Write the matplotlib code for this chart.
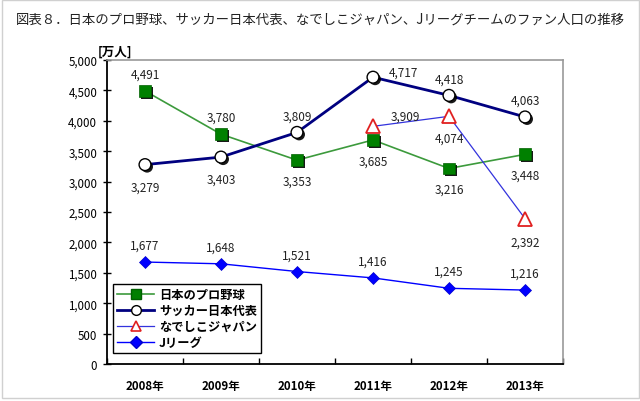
import matplotlib
matplotlib.use("Agg")
import matplotlib.pyplot as plt
import matplotlib.patheffects as pe
from matplotlib.lines import Line2D
import numpy as np

plt.rcParams['font.family'] = ['Noto Sans CJK JP', 'DejaVu Sans']

years = ['2008年', '2009年', '2010年', '2011年', '2012年', '2013年']
baseball = [4491, 3780, 3353, 3685, 3216, 3448]
soccer = [3279, 3403, 3809, 4717, 4418, 4063]
nadeshiko = [np.nan, np.nan, np.nan, 3909, 4074, 2392]
jleague = [1677, 1648, 1521, 1416, 1245, 1216]
series_names = ['日本のプロ野球', 'サッカー日本代表', 'なでしこジャパン', 'Jリーグ']
title = '図表８．日本のプロ野球、サッカー日本代表、なでしこジャパン、Jリーグチームのファン人口の推移'

fig = plt.figure(figsize=(6.4, 4.02), dpi=100)
# outer frame
fig.patches.append(plt.Rectangle((1.5/640, 3/402), 637/640, 398/402,
                                 transform=fig.transFigure, fill=False,
                                 edgecolor='#d0d0d0', lw=1.0))
fig.text(16/640, 1 - 20/402, title, fontsize=9.65, va='center', ha='left', color='#222222')

ax = fig.add_axes([107/640, 1 - 365/402, (563-107)/640, (365-61)/402])
x = np.arange(len(years))
shadow = [pe.SimplePatchShadow(offset=(1.5, -1.5), shadow_rgbFace='black', alpha=0.9), pe.Normal()]

ax.plot(x, baseball, color='#3c9a3c', lw=1.2, zorder=2)
ax.plot(x, baseball, ls='none', marker='s', ms=8.5, mfc='#008000', mec='#006000', mew=0.5,
        path_effects=shadow, zorder=5)
ax.plot(x, soccer, color='#000080', lw=2.0, zorder=2)
ax.plot(x, soccer, ls='none', marker='o', ms=8.5, mfc='white', mec='black', mew=1.0,
        path_effects=shadow, zorder=5)
ax.plot(x, nadeshiko, color='#3333dd', lw=0.9, zorder=2)
ax.plot(x, nadeshiko, ls='none', marker='^', ms=10, mfc='white', mec='#e02020', mew=1.3, zorder=5)
ax.plot(x, jleague, color='#0000ff', lw=1.0, zorder=2)
ax.plot(x, jleague, ls='none', marker='D', ms=6, mfc='#0000ff', mec='#0000cc', mew=0.5, zorder=5)

handles = [
    Line2D([], [], color='#3c9a3c', lw=1.2, marker='s', ms=7, mfc='#008000', mec='#006000'),
    Line2D([], [], color='#000080', lw=2.0, marker='o', ms=7, mfc='white', mec='black'),
    Line2D([], [], color='#3333dd', lw=0.9, marker='^', ms=7, mfc='white', mec='#e02020', mew=1.2),
    Line2D([], [], color='#0000ff', lw=1.0, marker='D', ms=6, mfc='#0000ff', mec='#0000cc'),
]
leg = ax.legend(handles, series_names, loc='lower left', bbox_to_anchor=(0.0, 0.015),
                fancybox=False, edgecolor='black', framealpha=1, fontsize=8.8,
                handlelength=3.0, handletextpad=0.4, labelspacing=0.25, borderpad=0.35)
leg.get_frame().set_linewidth(1.0)
for t in leg.get_texts():
    t.set_fontweight('bold')

def lab(xi, yi, dx, dy, ha='center'):
    ax.annotate(f'{yi:,.0f}', (xi, yi), xytext=(dx, dy), textcoords='offset points',
                ha=ha, va='center', fontsize=8.5, color='#222222')

offs_b = [(0, 12), (0, 12), (0, -15), (0, -15), (0, -15), (0, -15)]
for i, v in enumerate(baseball):
    lab(i, v, *offs_b[i])
offs_s = [(0, -16), (0, -16), (0, 12), (22, 4), (0, 12), (0, 12)]
for i, v in enumerate(soccer):
    lab(i, v, *offs_s[i])
offs_n = {3: (23, 7), 4: (0, -16), 5: (0, -17)}
for i, (dx, dy) in offs_n.items():
    lab(i, nadeshiko[i], dx, dy)
for i, v in enumerate(jleague):
    lab(i, v, 0, 12)

ax.set_xlim(-0.5, 5.5)
ax.set_ylim(0, 5000)
ax.set_yticks(np.arange(0, 5001, 500))
ax.set_yticklabels([f'{v:,}' for v in range(0, 5001, 500)], fontsize=8.3)
ax.set_xticks(x)
ax.set_xticklabels(years, fontsize=8.3, fontweight='bold')
ax.set_xticks(np.arange(-0.5, 6, 1), minor=True)
ax.tick_params(axis='x', which='major', length=0, pad=11)
ax.tick_params(axis='x', which='minor', direction='in', length=4, width=1)
ax.tick_params(axis='y', direction='inout', length=6, width=1, pad=4)
for s in ['left', 'bottom']:
    ax.spines[s].set_linewidth(1.3)
    ax.spines[s].set_color('black')
for s in ['top', 'right']:
    ax.spines[s].set_linewidth(1.2)
    ax.spines[s].set_color('#999999')
ax.text(-0.02, 1.008, '[万人]', transform=ax.transAxes, fontsize=9, fontweight='bold',
        ha='left', va='bottom')

fig.savefig('out.png', dpi=100)
